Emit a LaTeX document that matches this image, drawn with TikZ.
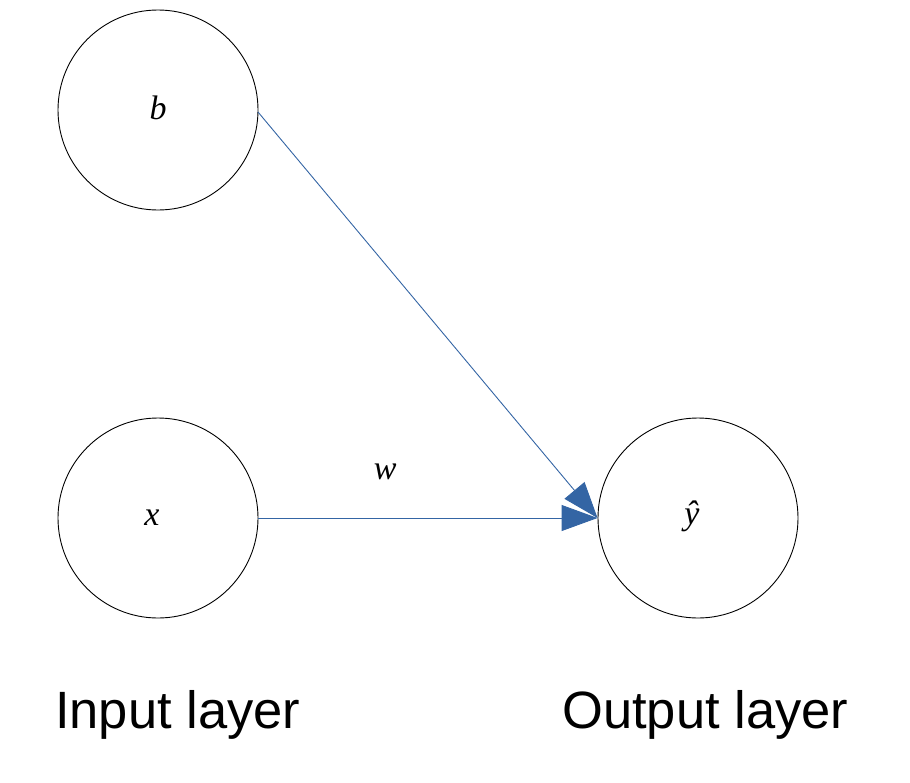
\documentclass[tikz,border=0pt]{standalone}
\usepackage{fontspec}
\setmainfont{Liberation Sans}
\newfontfamily\mathser{Liberation Serif}
\usetikzlibrary{arrows.meta}
\definecolor{lineblue}{HTML}{3465A4}
\begin{document}
\begin{tikzpicture}[x=1pt,y=-1pt,
  neuron/.style={circle,draw=black,line width=0.9pt,minimum size=200pt,inner sep=0pt},
  mlbl/.style={font=\mathser\itshape\fontsize{34}{40}\selectfont,inner sep=0pt},
  conn/.style={draw=lineblue,line width=0.9pt,-{Triangle[length=36pt,width=26pt]}},
  lbl/.style={font=\fontsize{52.5}{60}\selectfont,anchor=base west,inner sep=0pt}]
\useasboundingbox (0,0) rectangle (910,782);
\node[neuron] (b) at (158,110) {};
\node[neuron] (x) at (158,518) {};
\node[neuron] (y) at (698,518) {};
\node[mlbl] (bt) at (158,108) {b};
\node[mlbl] (xt) at (152,518) {x};
\node[mlbl] (yt) at (692,516) {ŷ};
\coordinate (bs) at (258,112);
\draw[conn] (bs) -- (y.west);
\draw[conn] (x.east) -- node[mlbl,pos=0.374,above=38pt] (wl) {w} (y.west);
\node[lbl] (in) at (55,728) {Input layer};
\node[lbl] (out) at (562,728) {Output layer};
\end{tikzpicture}
\end{document}
